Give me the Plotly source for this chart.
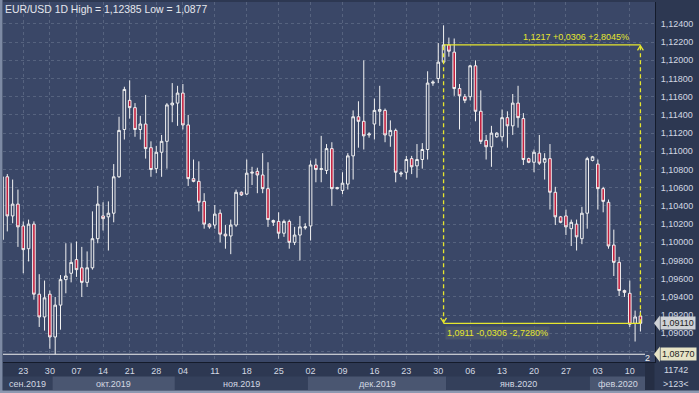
import plotly.graph_objects as go

# ---------------- data ----------------
opens = [1.1003,1.1072,1.1029,1.1042,1.1018,1.0993,1.1020,1.0943,1.0918,1.0943,
         1.0896,1.0931,1.0959,1.0966,1.0981,1.0972,1.0956,1.0972,1.1004,1.1029,
         1.1028,1.1032,1.1072,1.1124,1.1156,1.1148,1.1124,1.1130,1.1104,1.1081,
         1.1099,1.1111,1.1151,1.1153,1.1164,1.1129,1.1070,1.1067,1.1045,1.1020,
         1.1019,1.1032,1.1009,1.1007,1.1019,1.1055,1.1053,1.1076,1.1078,1.1074,
         1.1059,1.1024,1.1023,1.1010,1.1023,1.1000,1.1008,1.1016,1.1018,1.1085,
         1.1080,1.1079,1.1103,1.1059,1.1057,1.1064,1.1095,1.1138,1.1133,1.1118,
         1.1130,1.1144,1.1145,1.1117,1.1123,1.1075,1.1077,1.1092,1.1084,1.1091,
         1.1102,1.1175,1.1180,1.1198,1.1217,1.1209,1.1169,1.1160,1.1160,1.1194,
         1.1144,1.1112,1.1105,1.1116,1.1116,1.1137,1.1128,1.1153,1.1136,1.1092,
         1.1088,1.1098,1.1088,1.1092,1.1055,1.1028,1.1029,1.1015,1.1020,1.1004,
         1.1032,1.1090,1.1086,1.1059,1.1044,1.0997,1.0978,1.0947,1.0944,1.0911,
         1.0919]
highs = [1.1074,1.1075,1.1069,1.1058,1.1023,1.1025,1.1023,1.0965,1.0958,1.0947,
         1.0940,1.0964,1.0999,1.0999,1.1001,1.0995,1.0990,1.1034,1.1062,1.1044,
         1.1045,1.1086,1.1138,1.1171,1.1178,1.1153,1.1139,1.1162,1.1111,1.1106,
         1.1118,1.1153,1.1175,1.1172,1.1174,1.1140,1.1091,1.1089,1.1054,1.1021,
         1.1041,1.1036,1.1019,1.1025,1.1058,1.1056,1.1091,1.1083,1.1082,1.1098,
         1.1088,1.1025,1.1033,1.1025,1.1025,1.1017,1.1029,1.1021,1.1090,1.1092,
         1.1117,1.1108,1.1110,1.1061,1.1077,1.1098,1.1145,1.1155,1.1200,1.1121,
         1.1158,1.1172,1.1147,1.1134,1.1125,1.1078,1.1095,1.1095,1.1108,1.1109,
         1.1188,1.1178,1.1219,1.12385,1.1225,1.1224,1.1174,1.1163,1.1195,1.1200,
         1.1167,1.1118,1.1128,1.1121,1.1146,1.1144,1.1163,1.1172,1.1142,1.1093,
         1.1102,1.1118,1.1098,1.1108,1.1061,1.1029,1.1036,1.1025,1.1025,1.1039,
         1.1094,1.1095,1.1091,1.1061,1.1047,1.1014,1.0984,1.0948,1.0958,1.0925,
         1.0925]
lows = [1.0999,1.1012,1.1021,1.0995,1.0966,1.0979,1.0937,1.0907,1.0903,1.0883,
        1.0877,1.0904,1.0944,1.0956,1.0962,1.0940,1.0951,1.0970,1.0999,1.1013,
        1.0991,1.1022,1.1071,1.1113,1.1136,1.1116,1.1113,1.1092,1.1072,1.1076,
        1.1072,1.1081,1.1132,1.1128,1.1124,1.1062,1.1066,1.1034,1.1015,1.1015,
        1.1015,1.1000,1.0993,1.0987,1.1017,1.1051,1.1052,1.1063,1.1054,1.1054,
        1.1017,1.1018,1.1004,1.1006,1.0993,1.0997,1.0980,1.1014,1.1002,1.1066,
        1.1066,1.1075,1.1040,1.1058,1.1053,1.1058,1.1069,1.1104,1.1102,1.1115,
        1.1113,1.1128,1.1110,1.1105,1.1066,1.1072,1.1069,1.1075,1.1071,1.1081,
        1.1091,1.1172,1.1175,1.1197,1.1204,1.1161,1.1124,1.1153,1.1156,1.1133,
        1.1108,1.1091,1.1083,1.1115,1.1111,1.1104,1.1118,1.1126,1.1085,1.1087,
        1.1077,1.1085,1.1069,1.1036,1.1019,1.1021,1.1008,1.0996,1.0991,1.0998,
        1.1015,1.1089,1.1036,1.1033,1.0993,1.0963,1.0941,1.0940,1.0907,1.0891,
        1.0902]
closes = [1.1072,1.1029,1.1042,1.1017,1.0992,1.1020,1.0943,1.0918,1.0939,1.0896,
          1.0931,1.0959,1.0963,1.0978,1.0970,1.0956,1.0972,1.1004,1.1042,1.1026,
          1.1032,1.1072,1.1123,1.1168,1.1148,1.1124,1.1130,1.1103,1.1080,1.1099,
          1.1111,1.1151,1.1153,1.1164,1.1129,1.1070,1.1067,1.1044,1.1020,1.1017,
          1.1031,1.1009,1.1007,1.1019,1.1055,1.1052,1.1076,1.1077,1.1074,1.1059,
          1.1025,1.1022,1.1010,1.1023,1.1000,1.1008,1.1017,1.1017,1.1085,1.1080,
          1.1081,1.1103,1.1059,1.1060,1.1065,1.1095,1.1138,1.1133,1.1117,1.1119,
          1.1145,1.1146,1.1118,1.1123,1.1077,1.1076,1.1091,1.1083,1.1091,1.1102,
          1.1175,1.1176,1.1198,1.1217,1.1210,1.1169,1.1161,1.1156,1.1194,1.1144,
          1.1111,1.1105,1.1120,1.1120,1.1137,1.1128,1.1153,1.1137,1.1091,1.1088,
          1.1099,1.1087,1.1092,1.1055,1.1028,1.1022,1.1017,1.1022,1.1006,1.1032,
          1.1092,1.1094,1.1059,1.1045,1.0996,1.0978,1.0947,1.0945,1.0910,1.0918,
          1.0911]
x_index = list(range(len(opens)))

day_tick_pos = [4, 9, 14, 19, 24, 29, 34, 40, 46, 52, 58, 64, 70, 76, 82, 88, 94, 100, 106, 112, 118]
day_tick_text = ["23", "30", "07", "14", "21", "28", "04", "11", "18", "25", "02",
                 "09", "16", "23", "30", "06", "13", "20", "27", "03", "10"]
month_names = ["сен.2019", "окт.2019", "ноя.2019", "дек.2019", "янв.2020", "фев.2020"]
month_edges = [-0.5, 9.5, 32.5, 57.5, 83.5, 110.5, 121.0]
price_ticks = [1.088, 1.090, 1.092, 1.094, 1.096, 1.098, 1.100, 1.102, 1.104, 1.106, 1.108,
               1.110, 1.112, 1.114, 1.116, 1.118, 1.120, 1.122, 1.124]
hidden_tick_labels = [1.088]   # covered by the low price tag in the original
chart_high = 1.12385
chart_low = 1.0877
ref_index, ref_close = 83, 1.1217
last_index, last_close = 120, 1.0911
diff_text = "0,0306"
pct_up, pct_down = "2,8045%", "2,7280%"
bar_count_text = "11742"
visible_text = "&gt;123&lt;"

# ---------------- styling ----------------
PLOT_BG = "#3a4767"
PAPER_BG = "#2d3852"
GRID = "#56637f"
TXT = "#d3d8e2"
YEL = "#e6e62e"
FONT = "Liberation Sans, Arial, sans-serif"

X0, X1 = 0.19, 122.74
Y0, Y1 = 1.08685, 1.12641
PW, PH = 652.0, 360.0   # plot area in px

def px_x(px):   # page px -> paper x
    return (px - 3) / PW

def px_y(py):   # page px -> paper y
    return (362 - py) / PH

fig = go.Figure()
fig.add_trace(go.Candlestick(
    x=x_index, open=opens, high=highs, low=lows, close=closes,
    increasing=dict(line=dict(color="#f2f2f2", width=1), fillcolor=PLOT_BG),
    decreasing=dict(line=dict(color="#f2f2f2", width=1), fillcolor="#c4203f"),
    whiskerwidth=0, showlegend=False, hoverinfo="skip",
))

shapes = []
band_cols = ["#34405b", "#4a5671"]
for i in range(len(month_names)):
    shapes.append(dict(type="rect", xref="x", yref="paper",
                       x0=month_edges[i], x1=month_edges[i + 1],
                       y0=px_y(390), y1=px_y(376.5), fillcolor=band_cols[i % 2],
                       line=dict(width=0), layer="below"))
shapes.append(dict(type="rect", xref="paper", yref="paper", x0=px_x(645), x1=px_x(654.5),
                   y0=px_y(390), y1=px_y(363), fillcolor="#252e44", line=dict(width=0)))
shapes.append(dict(type="rect", xref="paper", yref="paper", x0=px_x(0), x1=px_x(2.5),
                   y0=px_y(393), y1=px_y(0), fillcolor="#7d8aa4", line=dict(width=0)))
shapes.append(dict(type="rect", xref="paper", yref="paper", x0=px_x(0), x1=px_x(699),
                   y0=px_y(393), y1=px_y(390.5), fillcolor="#8c98b0", line=dict(width=0)))
shapes.append(dict(type="line", xref="paper", yref="y", x0=0, x1=px_x(645),
                   y0=chart_low, y1=chart_low, line=dict(color="#f0f0f0", width=1)))
for yv in (ref_close, last_close):
    shapes.append(dict(type="line", xref="x", yref="y", x0=ref_index, x1=last_index,
                       y0=yv, y1=yv, line=dict(color=YEL, width=1.3)))
for xv in (ref_index, last_index):
    shapes.append(dict(type="line", xref="x", yref="y", x0=xv, x1=xv,
                       y0=last_close, y1=ref_close, line=dict(color=YEL, width=1.3, dash="4px,3px")))
dx, dy = 0.55, 0.0006
shapes.append(dict(type="path", xref="x", yref="y",
                   path=f"M {ref_index-dx},{last_close+dy} L {ref_index},{last_close+0.0001} L {ref_index+dx},{last_close+dy}",
                   line=dict(color=YEL, width=1.3)))
shapes.append(dict(type="path", xref="x", yref="y",
                   path=f"M {last_index-dx},{ref_close-dy} L {last_index},{ref_close-0.0001} L {last_index+dx},{ref_close-dy}",
                   line=dict(color=YEL, width=1.3)))
for yv, col in ((last_close, "#cfd2d6"), (chart_low, "#e6e3c6")):
    shapes.append(dict(type="path", xref="paper", yref="y",
                       path=f"M 0.9985,{yv} L 1.0075,{yv+0.00085} L 1.0075,{yv-0.00085} Z",
                       fillcolor=col, line=dict(width=0)))

annotations = []
annotations.append(dict(xref="paper", yref="paper", x=0.0, y=1.0, xanchor="left", yanchor="top",
                        text=f"EUR/USD 1D High = {chart_high:.5f}".replace(".", ",") + f" Low = {chart_low:.4f}".replace(".", ","),
                        showarrow=False, font=dict(color="#e6e8ee", size=10.4, family=FONT)))
for i, name in enumerate(month_names):
    lo = max(month_edges[i], X0)
    hi = min(month_edges[i + 1], X1)
    annotations.append(dict(xref="x", yref="paper", x=(lo + hi) / 2, y=px_y(383.5),
                            xanchor="center", yanchor="middle", text=name, showarrow=False,
                            font=dict(color=TXT, size=9, family=FONT)))
annotations.append(dict(xref="x", yref="y", x=last_index, y=ref_close, xanchor="right",
                        yanchor="bottom", xshift=-9, yshift=1,
                        text=f"{ref_close:.4f}".replace(".", ",") + " +" + diff_text + " +" + pct_up,
                        showarrow=False, font=dict(color=YEL, size=9, family=FONT)))
annotations.append(dict(xref="x", yref="y", x=ref_index, y=last_close, xanchor="left",
                        yanchor="top", xshift=1, yshift=-3,
                        text=f"{last_close:.4f}".replace(".", ",") + " -" + diff_text + " -" + pct_down,
                        showarrow=False, bgcolor="rgba(78,88,108,0.85)", borderpad=1,
                        font=dict(color=YEL, size=9, family=FONT)))
for yv, col in ((last_close, "#cfd2d6"), (chart_low, "#e6e3c6")):
    annotations.append(dict(xref="paper", yref="y", x=1.0075, y=yv, xanchor="left", yanchor="middle",
                            text=f"{yv:.5f}".replace(".", ","), showarrow=False, bgcolor=col,
                            borderpad=1, font=dict(color="#222222", size=9, family=FONT)))
annotations.append(dict(xref="paper", yref="paper", x=px_x(647), y=px_y(357.5), xanchor="center", yanchor="middle",
                        text="2", showarrow=False, font=dict(color="#f0f0f0", size=9, family=FONT)))
annotations.append(dict(xref="paper", yref="paper", x=px_x(676), y=px_y(370), xanchor="center", yanchor="middle",
                        text=bar_count_text, showarrow=False, font=dict(color=TXT, size=9, family=FONT)))
annotations.append(dict(xref="paper", yref="paper", x=px_x(676), y=px_y(383.5), xanchor="center", yanchor="middle",
                        text=visible_text, showarrow=False, font=dict(color=TXT, size=9, family=FONT)))

tick_text = ["" if v in hidden_tick_labels else f"{v:.5f}".replace(".", ",") for v in price_ticks]

fig.update_layout(
    width=699, height=393,
    margin=dict(l=3, r=44, t=2, b=31, pad=0),
    paper_bgcolor=PAPER_BG, plot_bgcolor=PLOT_BG,
    font=dict(family=FONT, size=9, color=TXT),
    shapes=shapes, annotations=annotations,
    showlegend=False,
    xaxis=dict(range=[X0, X1], rangeslider=dict(visible=False),
               tickvals=day_tick_pos, ticktext=day_tick_text,
               showgrid=True, gridcolor=GRID, griddash="3px,3px", gridwidth=1,
               ticks="", tickfont=dict(size=9, color=TXT, family=FONT),
               showline=True, linecolor="#141b2b", linewidth=1, mirror=False,
               zeroline=False, fixedrange=True),
    yaxis=dict(range=[Y0, Y1], side="right",
               tickvals=price_ticks, ticktext=tick_text,
               showgrid=True, gridcolor=GRID, griddash="3px,3px", gridwidth=1,
               ticks="", ticklabelstandoff=3, tickfont=dict(size=9, color=TXT, family=FONT),
               showline=True, linecolor="#141b2b", linewidth=1,
               zeroline=False, fixedrange=True),
)

fig.write_html("out.html")
